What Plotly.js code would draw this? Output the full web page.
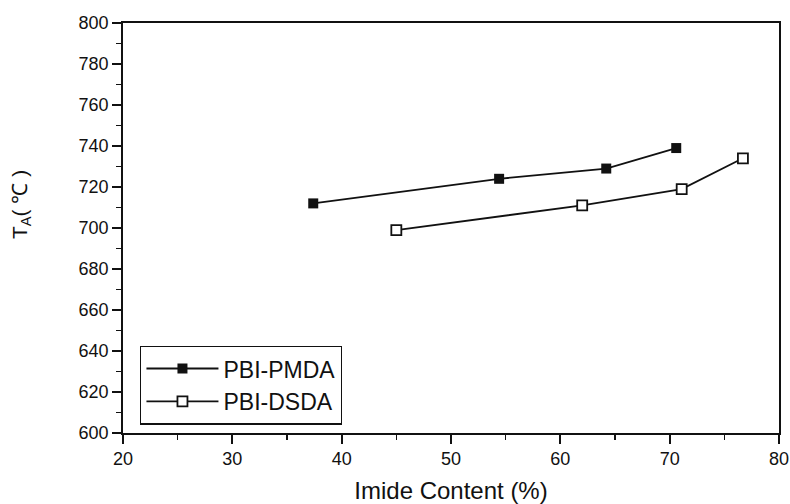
<!DOCTYPE html>
<html>
<head>
<meta charset="utf-8">
<script src="https://cdn.plot.ly/plotly-3.0.1.min.js"></script>
<style>html,body{margin:0;padding:0;background:#fff;}#chart{width:790px;height:504px;}</style>
</head>
<body>
<div id="chart"></div>
<script>
var pmdaX = [37.4, 54.4, 64.2, 70.6];
var pmdaY = [712, 724, 729, 739];
var dsdaX = [45.0, 62.0, 71.1, 76.7];
var dsdaY = [699, 711, 719, 734];
var seriesNames = ["PBI-PMDA", "PBI-DSDA"];
var xTitle = "Imide Content (%)";
var yTitle = "T<sub>A</sub>( ℃ )";

var fontFam = "Liberation Sans, Arial, sans-serif";
var traces = [
  {x: pmdaX, y: pmdaY, name: seriesNames[0], type: "scatter", mode: "lines+markers",
   line: {color: "#111", width: 1.8},
   marker: {symbol: "square", size: 10, color: "#111"}},
  {x: dsdaX, y: dsdaY, name: seriesNames[1], type: "scatter", mode: "lines+markers",
   line: {color: "#111", width: 1.8},
   marker: {symbol: "square", size: 10, color: "#fff", line: {color: "#111", width: 1.8}}}
];
var axisCommon = {
  showline: true, linecolor: "#111", linewidth: 1.8, mirror: true,
  ticks: "outside", ticklen: 9, tickwidth: 1.8, tickcolor: "#111",
  showgrid: false, zeroline: false,
  tickfont: {family: fontFam, size: 18, color: "#111"}
};
var layout = {
  width: 790, height: 504,
  margin: {l: 123, r: 11, t: 23, b: 71},
  paper_bgcolor: "#fff", plot_bgcolor: "#fff",
  showlegend: true,
  legend: {x: 0.026, y: 0.213, xanchor: "left", yanchor: "top",
           bordercolor: "#111", borderwidth: 1.4, bgcolor: "#fff",
           itemwidth: 72,
           font: {family: fontFam, size: 23, color: "#111"}},
  xaxis: Object.assign({}, axisCommon, {
    range: [20, 80], dtick: 10, tick0: 20,
    minor: {ticks: "outside", ticklen: 5, tickwidth: 1.5, tickcolor: "#111", dtick: 5, showgrid: false},
    title: {text: xTitle, font: {family: fontFam, size: 24, color: "#111"}, standoff: 14}
  }),
  yaxis: Object.assign({}, axisCommon, {
    range: [600, 800], dtick: 20, tick0: 600,
    minor: {ticks: "outside", ticklen: 5, tickwidth: 1.5, tickcolor: "#111", dtick: 10, showgrid: false}
  }),
  annotations: [{
    text: yTitle, xref: "paper", yref: "paper", x: 0, y: 0.556,
    xanchor: "center", yanchor: "middle", xshift: -102, textangle: -90,
    showarrow: false, font: {family: fontFam, size: 21, color: "#111"}
  }]
};
Plotly.newPlot("chart", traces, layout, {displayModeBar: false, staticPlot: true});
</script>
</body>
</html>
